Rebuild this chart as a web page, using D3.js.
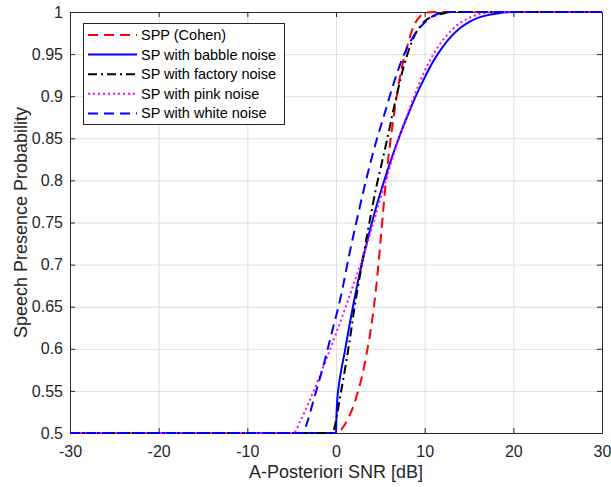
<!DOCTYPE html>
<html>
<head>
<meta charset="utf-8">
<script src="https://cdn.jsdelivr.net/npm/d3@7"></script>
<style>
  body { margin: 0; background: #fff; }
  svg { display: block; font-family: "Liberation Sans", Arial, Helvetica, sans-serif; }
  .grid line { stroke: #dfdfdf; stroke-width: 1; }
  .grid .domain { display: none; }
  .axis .domain, .axis line { stroke: #262626; }
  .axis text { fill: #262626; font-size: 16px; font-family: "Liberation Sans", Arial, sans-serif; }
  .lineSeries { fill: none; stroke-width: 2; }
</style>
</head>
<body>
<svg id="chart"></svg>
<script>
// values
var seriesNames = ["SPP (Cohen)", "SP with babble noise", "SP with factory noise", "SP with pink noise", "SP with white noise"];

var cohenX = [-30, 0, 0.5, 1, 1.5, 2, 2.5, 3, 3.5, 4, 4.5, 5, 5.5, 6, 6.5, 7, 7.5, 8, 8.5, 9, 9.5, 10, 11, 30];
var cohenY = [0.5, 0.5, 0.503, 0.51, 0.52, 0.533, 0.55, 0.57, 0.597, 0.628, 0.67, 0.725, 0.785, 0.835, 0.875, 0.91, 0.938, 0.958, 0.976, 0.988, 0.995, 0.999, 1, 1];

var babbleX = [-30, 0, 0.05, 0.15, 0.3, 0.6, 1, 1.5, 2, 3, 4, 5, 6, 7, 8, 9, 10, 11, 12, 13, 14, 15, 16, 17, 18, 20, 30];
var babbleY = [0.5, 0.5, 0.52, 0.54, 0.555, 0.575, 0.597, 0.627, 0.655, 0.705, 0.748, 0.785, 0.818, 0.848, 0.875, 0.9, 0.922, 0.942, 0.958, 0.971, 0.981, 0.988, 0.993, 0.996, 0.998, 1, 1];

var factoryX = [-30, -0.4, 0, 0.5, 1, 1.5, 2, 2.5, 3, 3.5, 4, 4.5, 5, 5.5, 6, 6.5, 7, 7.5, 8, 8.5, 9, 9.5, 10, 11, 12, 13, 30];
var factoryY = [0.5, 0.5, 0.515, 0.545, 0.575, 0.607, 0.643, 0.675, 0.705, 0.735, 0.763, 0.79, 0.813, 0.836, 0.86, 0.885, 0.908, 0.93, 0.948, 0.963, 0.975, 0.983, 0.989, 0.995, 0.998, 1, 1];

var pinkX = [-30, -4.8, -4, -3, -2, -1, 0, 1, 2, 3, 4, 5, 6, 7, 8, 9, 10, 11, 12, 13, 14, 15, 16, 18, 30];
var pinkY = [0.5, 0.5, 0.515, 0.538, 0.563, 0.59, 0.618, 0.647, 0.677, 0.708, 0.742, 0.778, 0.813, 0.847, 0.877, 0.905, 0.93, 0.95, 0.966, 0.978, 0.987, 0.993, 0.997, 1, 1];

var whiteX = [-30, -3.7, -3.3, -2.5, -1.5, -0.5, 0.5, 1.5, 2.5, 3.5, 4.5, 5.5, 6.5, 7.5, 8.5, 9.5, 10.5, 11.5, 13, 30];
var whiteY = [0.5, 0.5, 0.511, 0.54, 0.577, 0.618, 0.66, 0.712, 0.76, 0.805, 0.845, 0.88, 0.915, 0.945, 0.967, 0.982, 0.992, 0.998, 1, 1];

var xTicks = [-30, -20, -10, 0, 10, 20, 30];
var xTickLabels = ["-30", "-20", "-10", "0", "10", "20", "30"];
var yTicks = [0.5, 0.55, 0.6, 0.65, 0.7, 0.75, 0.8, 0.85, 0.9, 0.95, 1];
var yTickLabels = ["0.5", "0.55", "0.6", "0.65", "0.7", "0.75", "0.8", "0.85", "0.9", "0.95", "1"];

var xLabel = "A-Posteriori SNR [dB]";
var yLabel = "Speech Presence Probability";

var width = 611, height = 487;
var margin = { top: 12, right: 9, bottom: 54, left: 70 };
var plotW = width - margin.left - margin.right;
var plotH = height - margin.top - margin.bottom;

var svg = d3.select("#chart")
    .attr("width", width)
    .attr("height", height);

var g = svg.append("g")
    .attr("transform", "translate(" + margin.left + "," + margin.top + ")");

var xScale = d3.scaleLinear().domain([-30, 30]).range([0, plotW]);
var yScale = d3.scaleLinear().domain([0.5, 1]).range([plotH, 0]);

// gridlines
g.append("g")
    .attr("class", "grid")
    .attr("transform", "translate(0," + plotH + ")")
    .call(d3.axisBottom(xScale).tickValues(xTicks).tickSize(-plotH).tickFormat(""));

g.append("g")
    .attr("class", "grid")
    .call(d3.axisLeft(yScale).tickValues(yTicks).tickSize(-plotW).tickFormat(""));

// axes, ticks pointing inward like matlab
g.append("g")
    .attr("class", "x axis")
    .attr("transform", "translate(0," + plotH + ")")
    .call(d3.axisBottom(xScale).tickValues(xTicks).tickSize(-5).tickSizeOuter(0).tickPadding(13)
        .tickFormat(function (d, i) { return xTickLabels[i]; }));

g.append("g")
    .attr("class", "x axis")
    .call(d3.axisTop(xScale).tickValues(xTicks).tickSize(-5).tickSizeOuter(0).tickFormat(""));

g.append("g")
    .attr("class", "y axis")
    .call(d3.axisLeft(yScale).tickValues(yTicks).tickSize(-5).tickSizeOuter(0).tickPadding(7)
        .tickFormat(function (d, i) { return yTickLabels[i]; }));

g.append("g")
    .attr("class", "y axis")
    .attr("transform", "translate(" + plotW + ",0)")
    .call(d3.axisRight(yScale).tickValues(yTicks).tickSize(-5).tickSizeOuter(0).tickFormat(""));

// axis titles
svg.append("text")
    .attr("x", margin.left + plotW / 2)
    .attr("y", 478)
    .attr("text-anchor", "middle")
    .attr("font-size", "18px")
    .attr("fill", "#262626")
    .text(xLabel);

svg.append("text")
    .attr("transform", "translate(27," + (margin.top + plotH / 2) + ") rotate(-90)")
    .attr("text-anchor", "middle")
    .attr("font-size", "18px")
    .attr("fill", "#262626")
    .text(yLabel);

var series = [
    { name: seriesNames[0], x: cohenX, y: cohenY, color: "#ff0000", dash: "10,6" },
    { name: seriesNames[1], x: babbleX, y: babbleY, color: "#0000ff", dash: null },
    { name: seriesNames[2], x: factoryX, y: factoryY, color: "#000000", dash: "9,4,2,4" },
    { name: seriesNames[3], x: pinkX, y: pinkY, color: "#ff00ff", dash: "2,3" },
    { name: seriesNames[4], x: whiteX, y: whiteY, color: "#0000ff", dash: "10,6" }
];

var line = d3.line()
    .x(function (d) { return xScale(d[0]); })
    .y(function (d) { return yScale(d[1]); })
    .curve(d3.curveMonotoneX);

series.forEach(function (s) {
    var pts = s.x.map(function (v, i) { return [v, s.y[i]]; });
    g.append("path")
        .attr("class", "lineSeries")
        .attr("d", line(pts))
        .attr("stroke", s.color)
        .attr("stroke-dasharray", s.dash);
});

// legend
var legend = svg.append("g").attr("transform", "translate(83.5,23.5)");

legend.append("rect")
    .attr("width", 201)
    .attr("height", 101)
    .attr("fill", "#fff")
    .attr("stroke", "#262626")
    .attr("stroke-width", 1);

var item = legend.selectAll(".item")
    .data(series)
    .enter().append("g")
    .attr("class", "item")
    .attr("transform", function (d, i) { return "translate(0," + (11.5 + i * 19.6) + ")"; });

item.append("line")
    .attr("x1", 4.5).attr("x2", 53.5)
    .attr("stroke", function (d) { return d.color; })
    .attr("stroke-width", 2)
    .attr("stroke-dasharray", function (d) { return d.dash; });

item.append("text")
    .attr("x", 57.5)
    .attr("dy", "0.35em")
    .attr("font-size", "14.5px")
    .attr("fill", "#000")
    .text(function (d) { return d.name; });
</script>
</body>
</html>
